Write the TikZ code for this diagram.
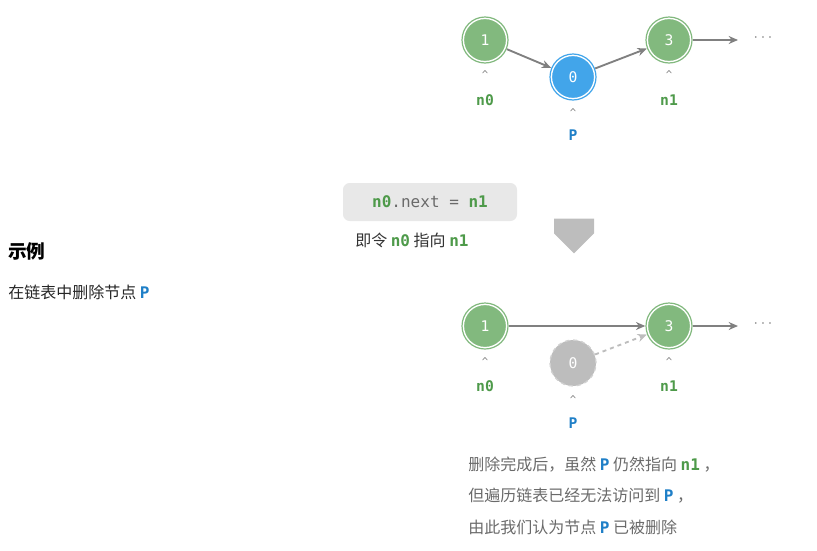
\documentclass[tikz,border=0pt]{standalone}
\usepackage{fontspec}
\setmainfont{Noto Sans CJK SC}
\newfontfamily\cjk{Noto Sans CJK SC}
\setmonofont{DejaVu Sans Mono}
\usetikzlibrary{arrows.meta,shapes.arrows}
\definecolor{gn}{HTML}{82B97E}
\definecolor{gnd}{HTML}{4E9A4A}
\definecolor{bl}{HTML}{42A5EA}
\definecolor{bld}{HTML}{1F7FC7}
\definecolor{gr}{HTML}{808080}
\definecolor{lg}{HTML}{BDBDBD}
\definecolor{tx}{HTML}{6A6A6A}
\tikzset{
 nd/.style={circle,minimum size=34.5pt,inner sep=0pt,fill=#1,draw=white,line width=1.1pt,
   double=#1,double distance=0.9pt,text=white,font=\ttfamily\fontsize{11}{11}\selectfont},
 gh/.style={circle,minimum size=34.5pt,inner sep=0pt,fill=lg,draw=lg!70,dashed,line width=1pt,text=white,font=\ttfamily\fontsize{11}{11}\selectfont},
 ar/.style={-{Stealth[length=7pt,width=6pt]},draw=gr,line width=1.4pt},
 lab/.style={font=\ttfamily\bfseries\fontsize{11}{11}\selectfont,text=#1},
 up/.style={font=\ttfamily\fontsize{8}{8}\selectfont,text=gr,inner sep=0pt},
 ct/.style={font=\fontsize{12}{12}\selectfont,text=tx,anchor=west,inner sep=0pt},
}
\newcommand{\cd}[2]{{\ttfamily\bfseries\color{#1}#2}}
\begin{document}
\begin{tikzpicture}[x=0.75pt,y=-0.75pt]
\useasboundingbox (0,0) rectangle (817,550);
% top
\node[nd=gn] (a1) at (485,40) {1};
\node[nd=bl] (a0) at (573,77) {0};
\node[nd=gn] (a3) at (669,40) {3};
\coordinate (ae) at (738,40);
\node[font=\fontsize{12}{12}\selectfont,text=gr] (ad) at (763,38) {$\cdots$};
\draw[ar] (a1) -- (a0);
\draw[ar] (a0) -- (a3);
\draw[ar] (a3) -- (ae);
\node[up] (u1) at (485,75) {\^{}};
\node[lab=gnd] (l1) at (485,100) {n0};
\node[up] (u3) at (669,75) {\^{}};
\node[lab=gnd] (l3) at (669,100) {n1};
\node[up] (u0) at (573,113) {\^{}};
\node[lab=bld] (l0) at (573,135) {P};
% middle
\node[fill=black!9,rounded corners=5pt,minimum width=130.5pt,minimum height=28.5pt,font=\ttfamily\fontsize{12}{12}\selectfont,text=tx] (code) at (430,202) {\cd{gnd}{n0}.next = \cd{gnd}{n1}};
\node[ct,text=black!80] (t1) at (355,240) {即令 \cd{gnd}{n0} 指向 \cd{gnd}{n1}};
\node[single arrow,draw=none,fill=lg,shape border rotate=270,minimum width=30pt,single arrow head extend=0pt,minimum height=26pt,inner sep=0pt] (dn) at (574,226) {};
\node[anchor=west,font=\bfseries\fontsize{14}{14}\selectfont,inner sep=0pt] (h) at (8,251) {示例};
\node[ct,text=black!85] (h2) at (8,292) {在链表中删除节点 \cd{bld}{P}};
% bottom
\node[nd=gn] (b1) at (485,326) {1};
\node[gh] (b0) at (573,363) {0};
\node[nd=gn] (b3) at (669,326) {3};
\coordinate (be) at (738,326);
\node[font=\fontsize{12}{12}\selectfont,text=gr] (bd) at (763,324) {$\cdots$};
\draw[ar] (b1) -- (b3);
\draw[ar,draw=lg,dashed] (b0) -- (b3);
\draw[ar] (b3) -- (be);
\node[up] (v1) at (485,362) {\^{}};
\node[lab=gnd] (m1) at (485,386) {n0};
\node[up] (v3) at (669,362) {\^{}};
\node[lab=gnd] (m3) at (669,386) {n1};
\node[up] (v0) at (573,400) {\^{}};
\node[lab=bld] (m0) at (573,423) {P};
\node[ct] (c1) at (468,465) {删除完成后，虽然 \cd{bld}{P} 仍然指向 \cd{gnd}{n1} ，};
\node[ct] (c2) at (468,496) {但遍历链表已经无法访问到 \cd{bld}{P} ，};
\node[ct] (c3) at (468,527) {由此我们认为节点 \cd{bld}{P} 已被删除};
\end{tikzpicture}
\end{document}
